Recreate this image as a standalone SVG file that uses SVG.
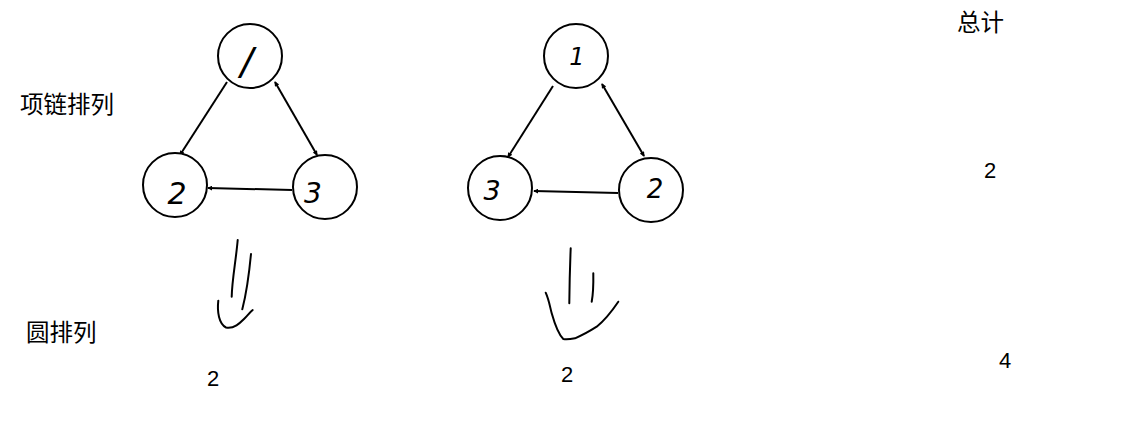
<svg xmlns="http://www.w3.org/2000/svg" width="1125" height="431" viewBox="0 0 1125 431">
<style>
.c{fill:#fff;stroke:#000;stroke-width:2}
.e{stroke:#000;stroke-width:2;fill:none}
.h{stroke:#000;stroke-width:2;fill:none;stroke-linecap:round;stroke-linejoin:round}
.t{font-family:"Liberation Sans","Noto Sans CJK SC",sans-serif;font-size:23.5px;fill:#000}
.n{font-family:"Liberation Sans",sans-serif;font-size:22px;fill:#000}
.hw{font-family:"DejaVu Sans",sans-serif;font-style:italic;font-weight:200;fill:#000;text-anchor:middle}
</style>
<defs>
<marker id="a" viewBox="0 0 6 6" refX="5" refY="3" markerWidth="2.5" markerHeight="2.5" orient="auto-start-reverse">
<path d="M0,0 L6,3 L0,6 z" fill="#000"/>
</marker>
</defs>
<rect width="1125" height="431" fill="#fff"/>
<g id="connectors">
<line class="e" x1="227" y1="82" x2="180" y2="155" marker-end="url(#a)"/>
<line class="e" x1="275" y1="82" x2="317" y2="155" marker-start="url(#a)" marker-end="url(#a)"/>
<line class="e" x1="292" y1="190" x2="208" y2="188" marker-end="url(#a)"/>
<line class="e" x1="553" y1="86" x2="508" y2="157" marker-end="url(#a)"/>
<line class="e" x1="602" y1="84" x2="644" y2="156" marker-start="url(#a)" marker-end="url(#a)"/>
<line class="e" x1="618" y1="193" x2="534" y2="191" marker-end="url(#a)"/>
</g>
<g id="node-l1"><circle class="c" cx="250" cy="56" r="32"/><text class="hw" x="247" y="74" font-size="38">/</text></g>
<g id="node-l2"><circle class="c" cx="175" cy="185" r="32"/><text class="hw" x="177" y="204" font-size="30">2</text></g>
<g id="node-l3"><circle class="c" cx="325" cy="187" r="32"/><text class="hw" x="313" y="203" font-size="28">3</text></g>
<g id="node-r1"><circle class="c" cx="576" cy="56" r="32"/><text class="hw" x="577" y="65" font-size="24">1</text></g>
<g id="node-r3"><circle class="c" cx="500" cy="188" r="32"/><text class="hw" x="492" y="200" font-size="27">3</text></g>
<g id="node-r2"><circle class="c" cx="651" cy="190" r="32"/><text class="hw" x="655" y="198" font-size="26">2</text></g>
<g id="strokes">
<path class="h" d="M237.7,240 C236,260 232,280 231.7,296.7"/>
<path class="h" d="M251,254 C249,275 246,295 242.3,309.3"/>
<path class="h" d="M218.3,300.7 C217,312 219,324 226,327.5 C234,329 240,323 244,319 C248,315 250,312 252.7,310"/>
<path class="h" d="M570.7,248.3 C570,265 569.5,285 569.3,303.3"/>
<path class="h" d="M593.3,273.3 C593.5,285 593,295 591.7,301.7"/>
<path class="h" d="M545.7,292.7 C549,300 550,307 551.7,313.3 C555,325 558,334 563.3,339 C567,339.5 571,339 575,338.3 C583,335 590,331 596.7,326.7 C605,320 612,311 618.3,301.7"/>
</g>
<g id="labels">
<text class="t" x="20" y="113">项链排列</text>
<text class="t" x="26" y="341">圆排列</text>
<text class="t" x="957" y="31">总计</text>
<text class="n" x="984" y="178">2</text>
<text class="n" x="999" y="368">4</text>
<text class="n" x="207" y="386">2</text>
<text class="n" x="561" y="382">2</text>
</g>
</svg>
